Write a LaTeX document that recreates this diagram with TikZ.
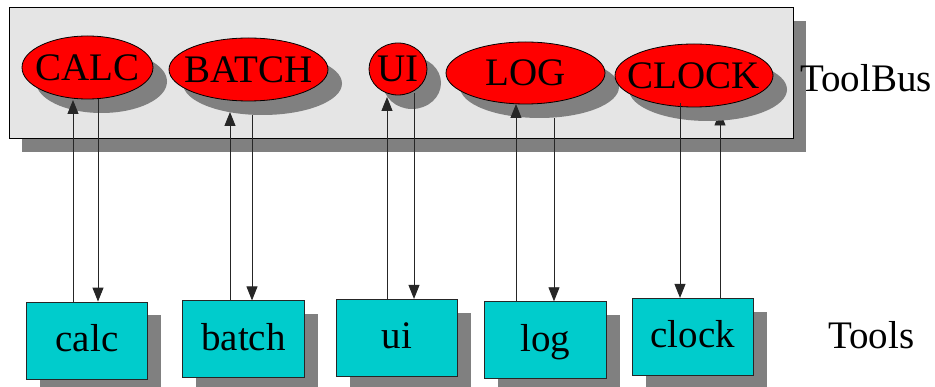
\documentclass[tikz,border=0pt]{standalone}
\usepackage{fontspec}
\setmainfont{Liberation Serif}
\usetikzlibrary{arrows.meta,shapes.geometric,shadows}
\definecolor{busgray}{RGB}{229,229,229}
\definecolor{shgray}{RGB}{128,128,128}
\definecolor{toolcyan}{RGB}{0,204,204}
\definecolor{busred}{RGB}{255,0,0}
\pgfdeclarelayer{bottomlayer}
\pgfdeclarelayer{underlayer}
\pgfsetlayers{bottomlayer,underlayer,main}
\newcommand\zwtext[1]{\makebox[0pt]{#1}}
\begin{document}
\begin{tikzpicture}[x=1pt,y=-1pt,
  txt/.style={font=\fontsize{39}{45}\selectfont},
  busnode/.style={ellipse,draw=black,line width=0.8pt,fill=busred,inner sep=0pt,txt,
    text height=25.5pt,text depth=0pt,
    copy shadow={shadow xshift=14pt,shadow yshift=-14pt,draw=none,fill=shgray}},
  toolnode/.style={rectangle,draw=black!85,line width=0.8pt,fill=toolcyan,
    minimum width=121.5pt,minimum height=77pt,inner sep=0pt,txt,
    text height=26pt,text depth=4pt,
    copy shadow={shadow xshift=13.5pt,shadow yshift=-13.5pt,draw=none,fill=shgray}},
  arr/.style={draw=black!85,line width=0.9pt,-{Triangle[width=11pt,length=14pt]}}]
\useasboundingbox (0,0) rectangle (935,387);

% ToolBus frame
\begin{pgfonlayer}{bottomlayer}
\node[draw=black,line width=1pt,fill=busgray,minimum width=784pt,minimum height=131pt,inner sep=0pt,
  copy shadow={shadow xshift=13pt,shadow yshift=-13pt,draw=none,fill=shgray}] (bus) at (401,73.5) {};
\end{pgfonlayer}

% ToolBus processes
\node[busnode,minimum width=131pt,minimum height=63pt] (CALC) at (87.5,67.5) {\zwtext{CALC}};
\node[busnode,minimum width=159pt,minimum height=63pt] (BATCH) at (248.5,69.5) {\zwtext{BATCH}};
\node[busnode,minimum width=58pt,minimum height=52pt] (UI) at (398,69) {\zwtext{UI}};
\node[busnode,minimum width=159pt,minimum height=62pt] (LOG) at (525.5,73) {\zwtext{LOG}};
\node[busnode,minimum width=158pt,minimum height=63pt] (CLOCK) at (694,75.5) {\zwtext{CLOCK}};

% Tools
\node[toolnode] (calc) at (87,340.5) {calc};
\node[toolnode] (batch) at (243.5,339.3) {batch};
\node[toolnode] (ui) at (396.8,337.8) {ui};
\node[toolnode] (log) at (545.5,340.2) {log};
\node[toolnode] (clock) at (692.8,336.8) {clock};

% labels
\node[txt,inner sep=0pt,anchor=base west] (lbus) at (800,92) {ToolBus};
\node[txt,inner sep=0pt,anchor=base west] (ltools) at (828,349) {Tools};

% connector end points
\coordinate (cu) at (73,100);
\coordinate (cd) at (98,99);
\coordinate (bu) at (230,112);
\coordinate (bd) at (252,115);
\coordinate (uu) at (387,97);
\coordinate (ud) at (414,93);
\coordinate (lu) at (516,104);
\coordinate (ld) at (554,118);
\coordinate (kd) at (680,103);
\coordinate (ku) at (720,111.5);

\draw[arr] (calc.north -| cu) -- (cu);
\draw[arr] (cd) -- (calc.north -| cd);
\draw[arr] (batch.north -| bu) -- (bu);
\draw[arr] (bd) -- (batch.north -| bd);
\draw[arr] (ui.north -| uu) -- (uu);
\draw[arr] (ud) -- (ui.north -| ud);
\draw[arr] (log.north -| lu) -- (lu);
\draw[arr] (ld) -- (log.north -| ld);
\draw[arr] (kd) -- (clock.north -| kd);
\begin{pgfonlayer}{underlayer}
\draw[arr] (clock.north -| ku) -- (ku);
\end{pgfonlayer}
\end{tikzpicture}
\end{document}
